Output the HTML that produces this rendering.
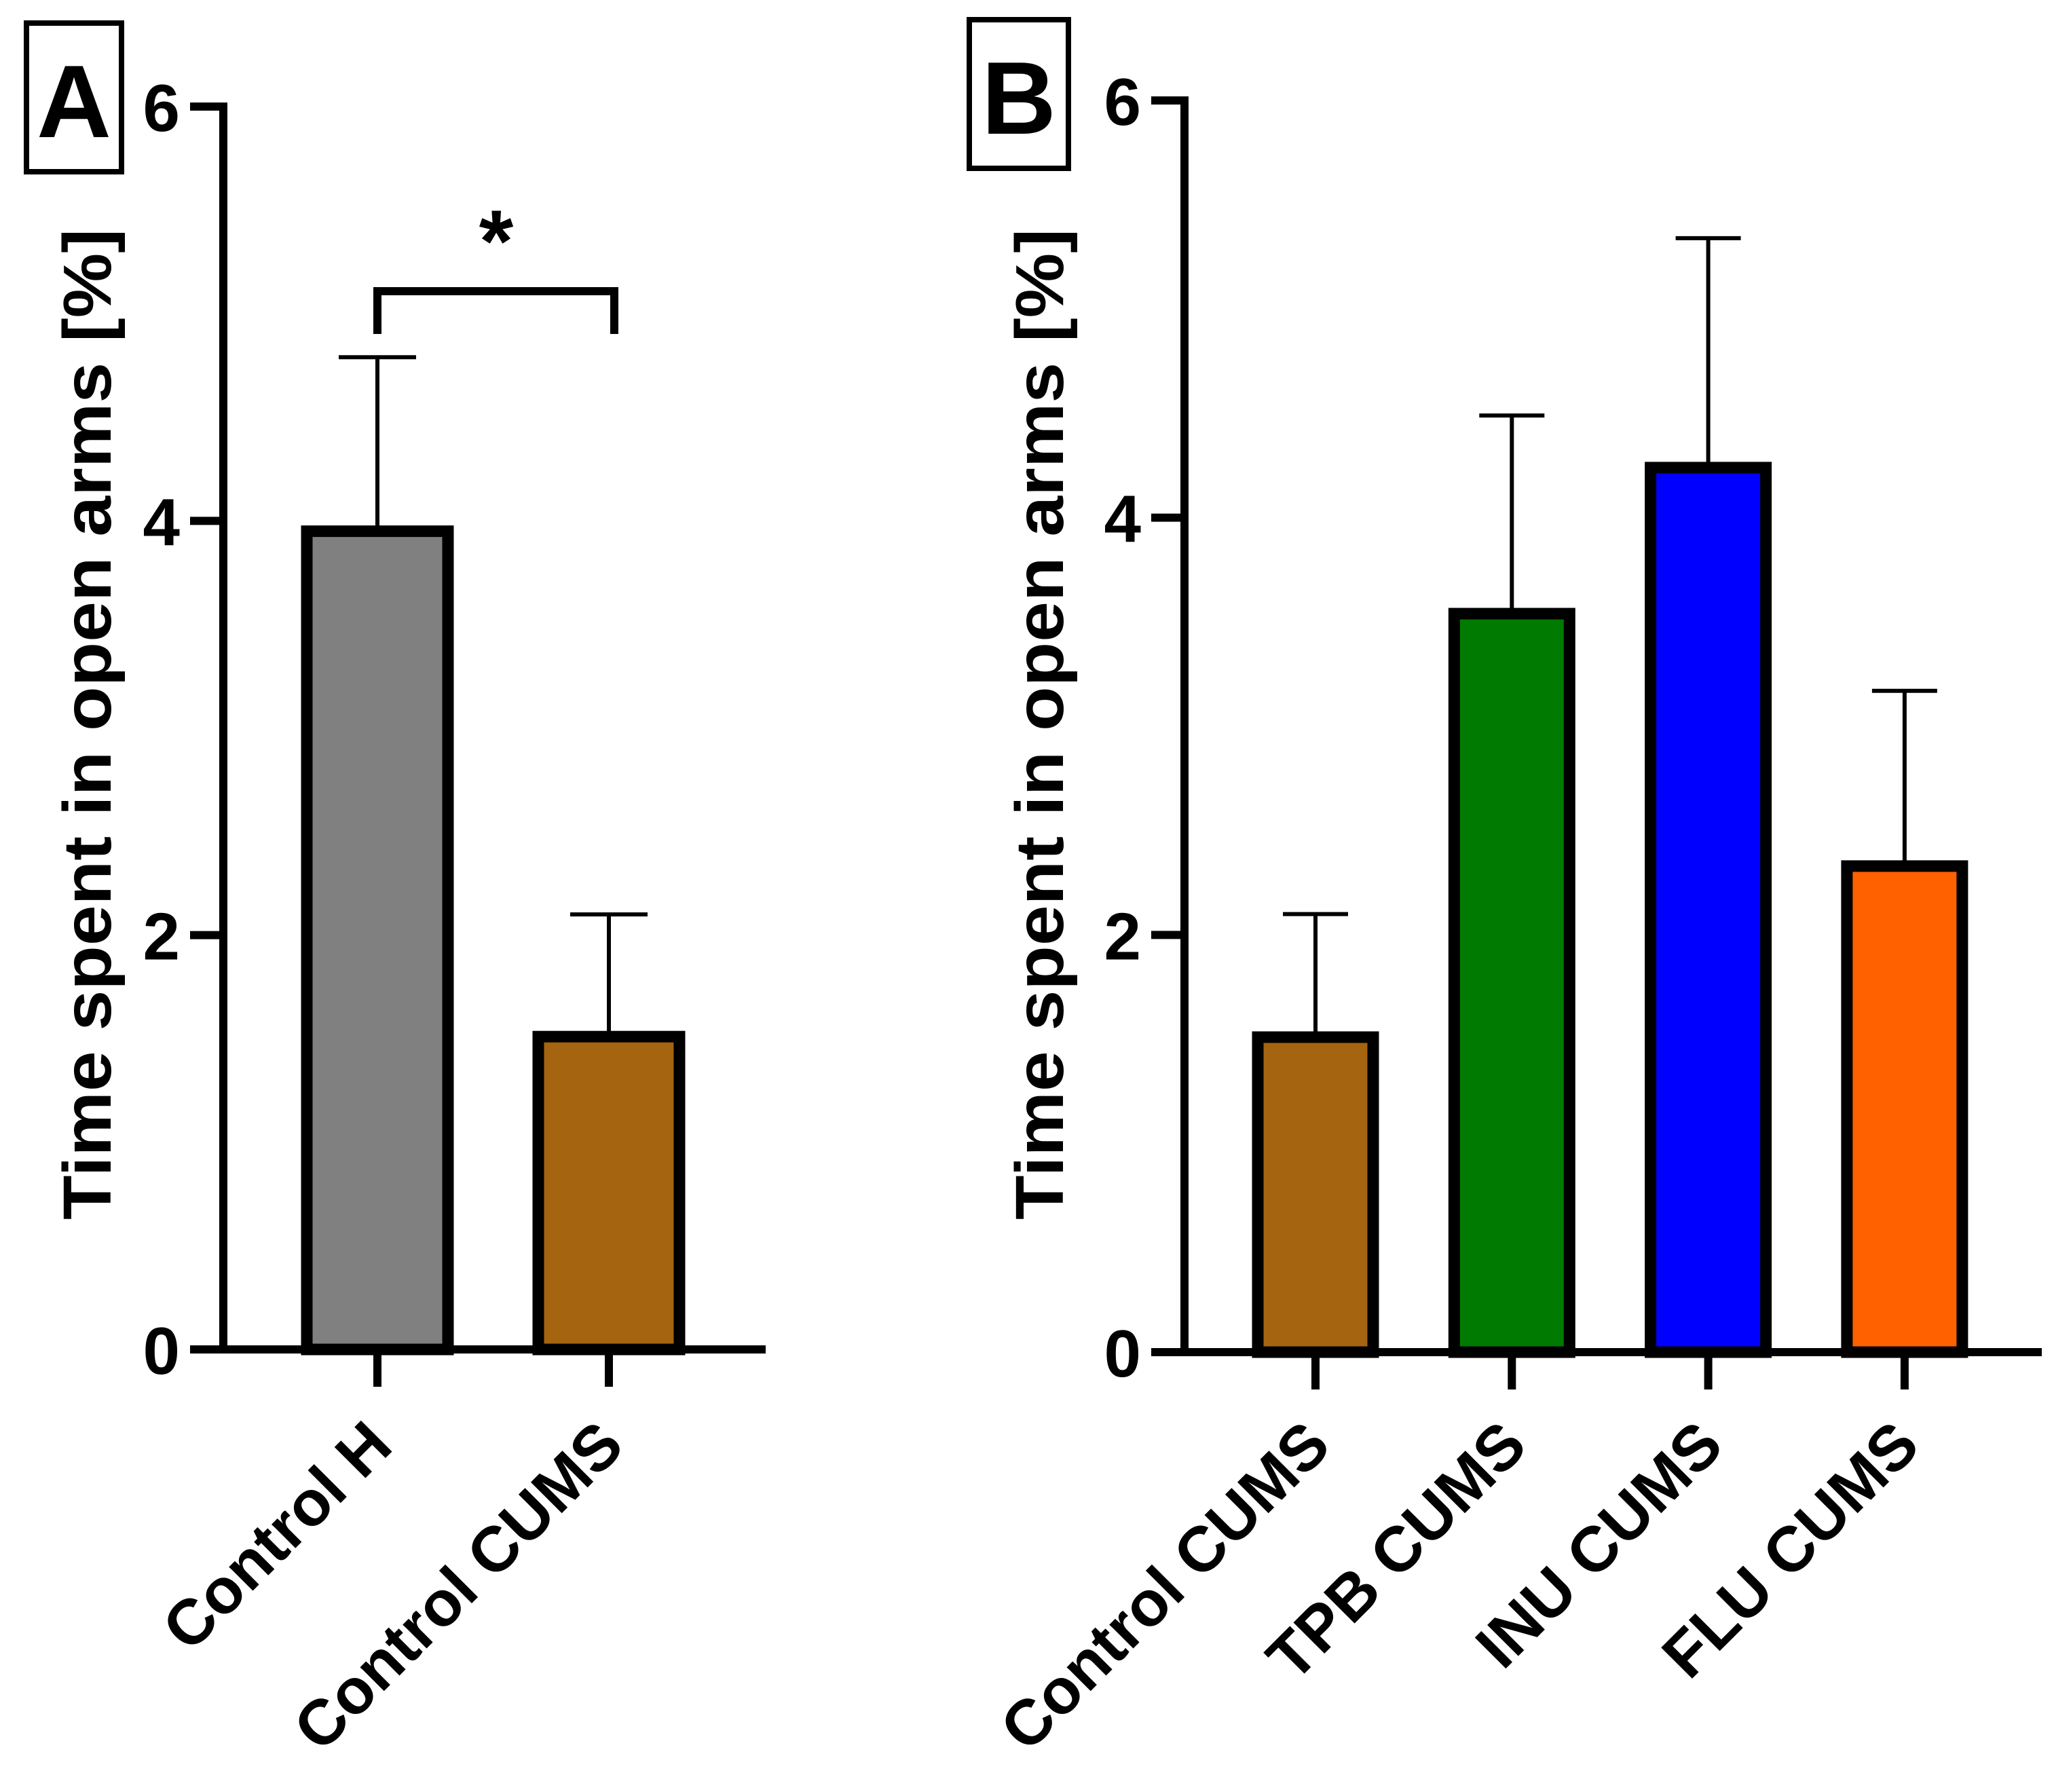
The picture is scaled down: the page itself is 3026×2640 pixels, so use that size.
<!DOCTYPE html>
<html><head><meta charset="utf-8"><style>
html,body{margin:0;padding:0;background:#fff;}
svg{display:block;}
text{font-family:"Liberation Sans",Arial,sans-serif;font-weight:bold;fill:#000;}
</style></head><body>
<svg id="fig" width="3026" height="2640" viewBox="0 0 3026 2640" xmlns="http://www.w3.org/2000/svg">
<rect x="0" y="0" width="3026" height="2640" fill="#fff"/>
<g id="panelA"></g>
<g id="panelB"></g>
</svg>
<script>
const catsA = ["Control H", "Control CUMS"];
const meansA = [3.95, 1.51];
const errTopA = [4.79, 2.10];
const colorsA = ["#808080", "#A5640F"];
const catsB = ["Control CUMS", "TPB CUMS", "INU CUMS", "FLU CUMS"];
const meansB = [1.51, 3.54, 4.24, 2.33];
const errTopB = [2.10, 4.49, 5.34, 3.17];
const colorsB = ["#A5640F", "#007A00", "#0000FF", "#FF6000"];
const yTicks = [0, 2, 4, 6];
const yTickLabels = ["0", "2", "4", "6"];

const NS = "http://www.w3.org/2000/svg";
function mk(parent, tag, attrs) {
  const e = document.createElementNS(NS, tag);
  for (const k in attrs) e.setAttribute(k, attrs[k]);
  parent.appendChild(e);
  return e;
}

function drawPanel(g, cfg, cats, means, errs, colors) {
  const y = v => cfg.y0 - (cfg.y0 - cfg.y6) * v / 6;
  const x = i => cfg.xc0 + i * cfg.step;
  const box = mk(g, "rect", {x: cfg.box[0], y: cfg.box[1], width: cfg.box[2], height: cfg.box[3], fill: "none", stroke: "#000", "stroke-width": 8});
  
  
  const lt = mk(g, "text", {x: cfg.box[0] + cfg.box[2] / 2, y: cfg.box[1] + 168, "text-anchor": "middle", "font-size": 152});
  lt.textContent = cfg.letter;
  
  
  cats.forEach((c, i) => {
    const cx = x(i);
    const top = y(means[i]);
    const eb = mk(g, "line", {x1: cx, x2: cx, y1: top, y2: y(errs[i]), stroke: "#000", "stroke-width": 6});
    
    
    const cap = mk(g, "line", {x1: cx - cfg.cap / 2, x2: cx + cfg.cap / 2, y1: y(errs[i]), y2: y(errs[i]), stroke: "#000", "stroke-width": 6});
    
    
    const r = mk(g, "rect", {x: cx - cfg.bw / 2, y: top, width: cfg.bw, height: y(0) - top, fill: colors[i], stroke: "#000", "stroke-width": 17});
    
    
    const t = mk(g, "line", {x1: cx, x2: cx, y1: cfg.y0, y2: cfg.y0 + 55, stroke: "#000", "stroke-width": 12});
    
    
    const lx = cx + 26, ly = 2134;
    const tl = mk(g, "text", {x: lx, y: ly, "text-anchor": "end", "font-size": 94, transform: "rotate(-45 " + lx + " " + ly + ")"});
    tl.textContent = c;
    
    
  });
  const ya = mk(g, "line", {x1: cfg.ax, x2: cfg.ax, y1: cfg.y6 - 6, y2: cfg.y0 + 6, stroke: "#000", "stroke-width": 12});
  
  
  const xa = mk(g, "line", {x1: cfg.ax - 49, x2: cfg.xEnd, y1: cfg.y0, y2: cfg.y0, stroke: "#000", "stroke-width": 12});
  
  
  yTicks.forEach((v, i) => {
    const tk = mk(g, "line", {x1: cfg.ax - 49, x2: cfg.ax, y1: y(v), y2: y(v), stroke: "#000", "stroke-width": 12});
    
    
    const tt = mk(g, "text", {x: cfg.ax - 64, y: y(v) + 36, "text-anchor": "end", "font-size": 98});
    tt.textContent = yTickLabels[i];
    
    
  });
  const yl = mk(g, "text", {x: cfg.labX, y: 1067, "text-anchor": "middle", "font-size": 100, textLength: 1460, lengthAdjust: "spacingAndGlyphs", transform: "rotate(-90 " + cfg.labX + " 1067)"});
  yl.textContent = "Time spent in open arms [%]";
  
  
  return {x, y};
}

const gA = document.getElementById("panelA");
const A = drawPanel(gA, {letter: "A", box: [39, 34, 140, 219], y0: 1988, y6: 157, ax: 329, xEnd: 1128, xc0: 556, step: 341, bw: 208, cap: 114, labX: 163}, catsA, meansA, errTopA, colorsA);
const br = mk(gA, "polyline", {points: [A.x(0), 492, A.x(0), 429, A.x(1) + 8, 429, A.x(1) + 8, 492].join(" "), fill: "none", stroke: "#000", "stroke-width": 12});


const st = mk(gA, "text", {x: 731, y: 400, "text-anchor": "middle", "font-size": 130});
st.textContent = "*";



const gB = document.getElementById("panelB");
drawPanel(gB, {letter: "B", box: [1428, 29, 146, 219], y0: 1992, y6: 148, ax: 1745, xEnd: 3008, xc0: 1938, step: 289.3, bw: 170, cap: 96, labX: 1566}, catsB, meansB, errTopB, colorsB);
</script>
</body></html>
